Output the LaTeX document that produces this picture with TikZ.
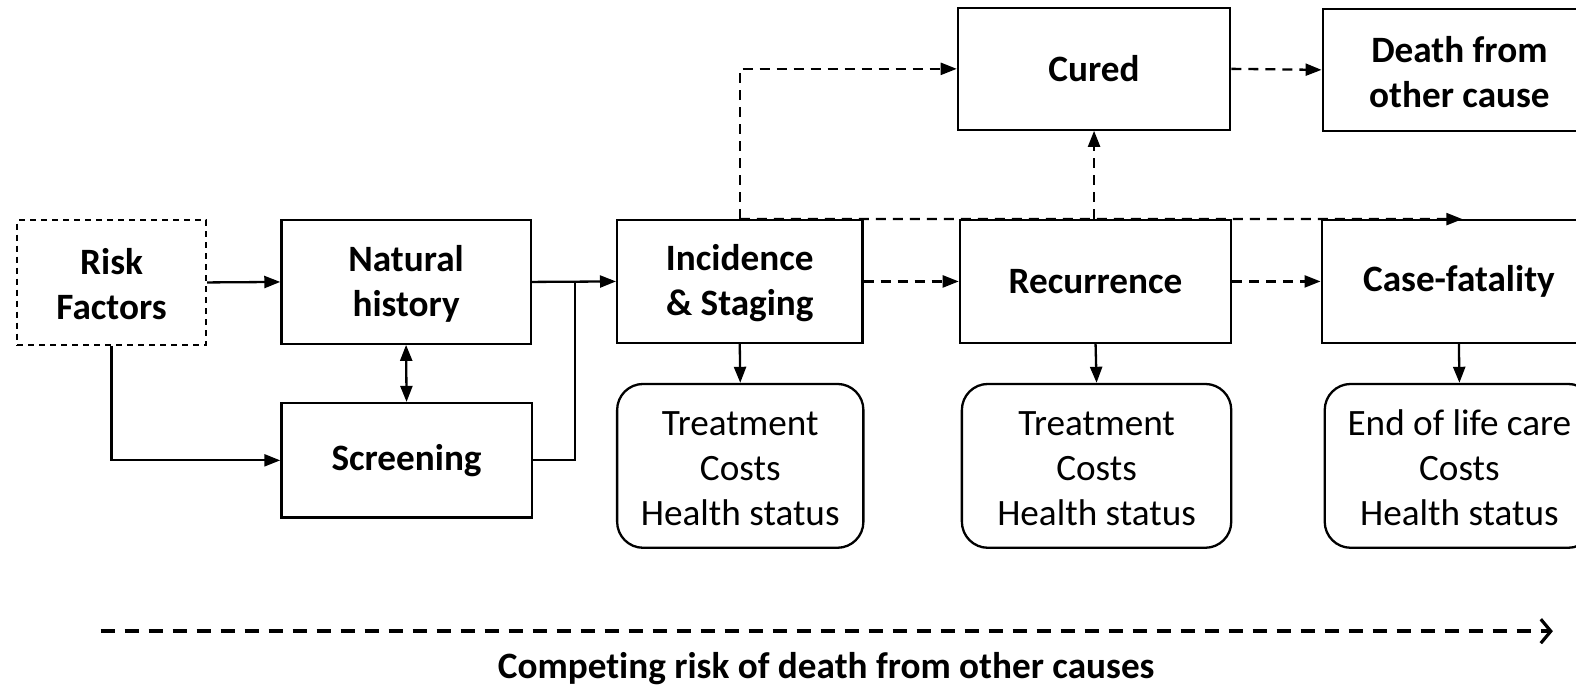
\documentclass[tikz,border=0pt]{standalone}
\usepackage{fontspec}
\setmainfont{Carlito}[Ligatures=NoCommon]
\usetikzlibrary{arrows.meta}
\def\u{0.5025pt}
\newcommand\mystrut{\rule{0pt}{15pt}}
\begin{document}
\begin{tikzpicture}[x=0.5025pt,y=-0.5025pt,
  font=\fontsize{18.6}{22.6}\selectfont,
  box/.style={draw,line width=1.15pt,inner sep=0pt,align=center,font=\fontsize{18.6}{22.6}\selectfont\bfseries},
  rbox/.style={draw,line width=1.15pt,inner sep=0pt,align=center,rounded corners=13pt},
  arr/.style={line width=1.15pt,-{Triangle[length=8pt,width=6pt]}},
  darr/.style={line width=1.15pt,dash pattern=on 5pt off 3.5pt,-{Triangle[length=8pt,width=6pt]}},
  dbl/.style={line width=1.15pt,{Triangle[length=8pt,width=6pt]}-{Triangle[length=8pt,width=6pt]}}
]
\useasboundingbox (0,0) rectangle (1568,686);
\clip (0,0) rectangle (1568,686);
\node[box,dashed,dash pattern=on 3pt off 2.5pt,minimum width=188*\u,minimum height=124*\u] (rf) at (111,281) {\mystrut Risk\\Factors};
\node[box,minimum width=248*\u,minimum height=123*\u] (nh) at (404,280.5) {\mystrut Natural\\history};
\node[box,minimum width=249*\u,minimum height=114*\u] (sc) at (404.5,458) {Screening};
\node[box,minimum width=244*\u,minimum height=122*\u] (inc) at (736,280) {\mystrut Incidence\\\& Staging};
\node[box,minimum width=271*\u,minimum height=121*\u] (cur) at (1088.5,68.5) {Cured};
\node[box,minimum width=272*\u,minimum height=121*\u] (dth) at (1452,69.5) {\mystrut Death from\\other cause};
\node[box,minimum width=270*\u,minimum height=122*\u] (rec) at (1090,280) {Recurrence};
\node[box,minimum width=273*\u,minimum height=122*\u] (cf) at (1451.5,280) {Case-fatality};
\node[rbox,minimum width=245*\u,minimum height=163*\u] (t1) at (736.5,463.5) {\mystrut Treatment\\Costs\\Health status};
\node[rbox,minimum width=268*\u,minimum height=163*\u] (t2) at (1091,463.5) {\mystrut Treatment\\Costs\\Health status};
\node[rbox,minimum width=268*\u,minimum height=163*\u] (t3) at (1452,463.5) {\mystrut End of life care\\Costs\\Health status};
\coordinate (j) at (572,281);
\coordinate (tip) at (1455,218);
\coordinate (ba) at (100,628);
\coordinate (bb) at (1545,628);
\draw[arr] (rf.east) -- (nh.west);
\draw[arr] (rf.south) |- (sc.west);
\draw[dbl] (nh.south) -- (sc.north);
\draw[arr] (nh.east) -- (inc.west);
\draw[line width=1.15pt] (sc.east) -| (j);
\draw[arr] (inc.south) -- (t1.north);
\draw[darr] (inc.east) -- (rec.west);
\draw[darr] (inc.north) |- (cur.west);
\draw[darr] (inc.north) -- (tip);
\draw[darr] (cur.south |- rec.north) -- (cur.south);
\draw[darr] (cur.east) -- (dth.west);
\draw[darr] (rec.east) -- (cf.west);
\draw[arr] (rec.south) -- (t2.north);
\draw[arr] (cf.south) -- (t3.north);
\draw[line width=2pt,dash pattern=on 7pt off 5pt,-{Straight Barb[length=5pt,width=12pt,line width=1.6pt]}] (ba) -- (bb);
\node[font=\fontsize{18.6}{22.6}\selectfont\bfseries] (lbl) at (822,665) {Competing risk of death from other causes};
\end{tikzpicture}
\end{document}
